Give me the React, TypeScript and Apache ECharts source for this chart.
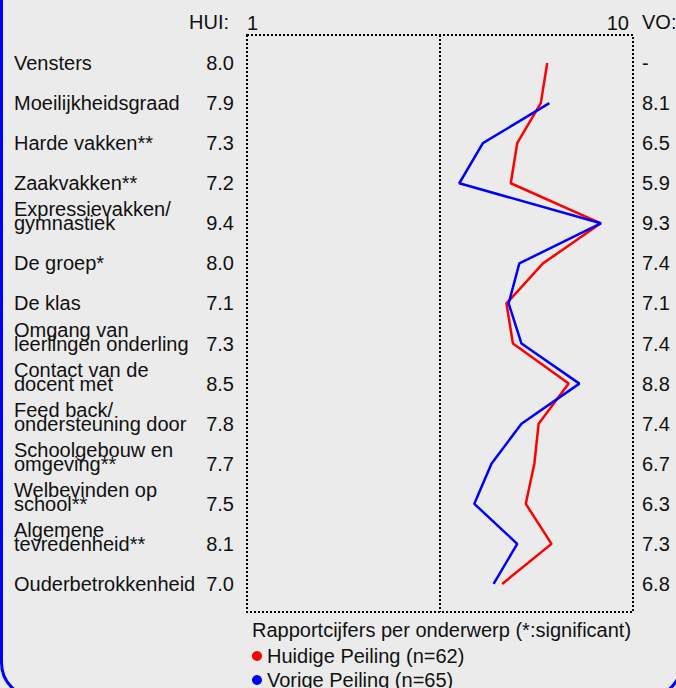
import React, { useEffect, useRef } from "react";
import * as echarts from "echarts";

const topics: string[] = [
  "Vensters",
  "Moeilijkheidsgraad",
  "Harde vakken**",
  "Zaakvakken**",
  "Expressievakken/\ngymnastiek",
  "De groep*",
  "De klas",
  "Omgang van\nleerlingen onderling",
  "Contact van de\ndocent met",
  "Feed back/\nondersteuning door",
  "Schoolgebouw en\nomgeving**",
  "Welbevinden op\nschool**",
  "Algemene\ntevredenheid**",
  "Ouderbetrokkenheid",
];

// printed grades (HUI / VO columns)
const huidigeLabels: number[] = [8.0, 7.9, 7.3, 7.2, 9.4, 8.0, 7.1, 7.3, 8.5, 7.8, 7.7, 7.5, 8.1, 7.0];
const vorigeLabels: (number | null)[] = [null, 8.1, 6.5, 5.9, 9.3, 7.4, 7.1, 7.4, 8.8, 7.4, 6.7, 6.3, 7.3, 6.8];

// plotted positions
const huidigeLine: number[] = [8.0, 7.85, 7.3, 7.15, 9.25, 7.9, 7.05, 7.2, 8.5, 7.8, 7.7, 7.5, 8.1, 6.95];
const vorigeLine: (number | null)[] = [null, 8.05, 6.5, 5.95, 9.25, 7.35, 7.1, 7.4, 8.75, 7.4, 6.7, 6.3, 7.3, 6.75];

const scaleTicks: number[] = [1, 10];
const rowRange: number[] = [-0.7, 13.7];
const midValue = 5.5;
const seriesNames: string[] = ["Huidige Peiling (n=62)", "Vorige Peiling (n=65)"];
const footTitle = "Rapportcijfers per onderwerp (*:significant)";
const huiHeader = "HUI:";
const voHeader = "VO:";

const FONT = "'Liberation Sans', Arial, sans-serif";
const TXT = "#111";

export default function App() {
  const ref = useRef<HTMLDivElement>(null);
  useEffect(() => {
    if (!ref.current) return;
    const chart = echarts.init(ref.current, undefined, { renderer: "svg" });
    const rows = topics.map((_, i) => i);
    const yBase = {
      type: "value" as const,
      inverse: true,
      min: rowRange[0],
      max: rowRange[1],
      splitLine: { show: false },
      axisTick: { show: false },
      axisLine: { show: false },
    };
    const redData = huidigeLine.map((v, i) => [v, i]);
    const blueData = vorigeLine
      .map((v, i) => (v == null ? null : [v, i]))
      .filter((d) => d !== null);
    const legendBase = {
      orient: "horizontal" as const,
      left: 252,
      padding: 0,
      itemWidth: 10,
      itemHeight: 10,
      icon: "circle",
      textStyle: { fontSize: 20, color: TXT, fontFamily: FONT },
    };
    chart.setOption({
      animation: false,
      backgroundColor: "#ebebeb",
      textStyle: { fontFamily: FONT },
      grid: { left: 247, right: 43, top: 35, bottom: 76 },
      title: {
        text: footTitle,
        left: 252,
        top: 620,
        padding: 0,
        textStyle: { fontSize: 20, fontWeight: "normal", color: TXT, fontFamily: FONT },
      },
      legend: [
        { ...legendBase, top: 646, data: [seriesNames[0]] },
        { ...legendBase, top: 670, data: [seriesNames[1]] },
      ],
      xAxis: [
        {
          type: "value",
          position: "top",
          min: scaleTicks[0],
          max: scaleTicks[1],
          axisLine: { show: false },
          axisTick: { show: false },
          splitLine: { show: false },
          axisLabel: {
            customValues: scaleTicks,
            margin: 2,
            fontSize: 20,
            color: TXT,
            fontFamily: FONT,
            padding: [0, 4, 0, 0],
            alignMinLabel: "left",
            alignMaxLabel: "right",
          },
        },
      ],
      yAxis: [
        {
          ...yBase,
          position: "left",
          axisLabel: {
            customValues: rows,
            align: "left",
            margin: 233,
            fontSize: 20,
            lineHeight: 14,
            color: TXT,
            fontFamily: FONT,
            formatter: (v: number) => {
              const t = topics[Math.round(v)] ?? "";
              return t.includes("\n") ? t + "\n " : t;
            },
          },
        },
        {
          ...yBase,
          position: "left",
          axisLabel: {
            customValues: rows,
            align: "right",
            margin: 13,
            fontSize: 20,
            color: TXT,
            fontFamily: FONT,
            formatter: (v: number) => {
              const h = huidigeLabels[Math.round(v)];
              return h == null ? "-" : h.toFixed(1);
            },
          },
        },
        {
          ...yBase,
          position: "right",
          axisLabel: {
            customValues: rows,
            align: "left",
            margin: 9,
            fontSize: 20,
            color: TXT,
            fontFamily: FONT,
            formatter: (v: number) => {
              const h = vorigeLabels[Math.round(v)];
              return h == null ? "-" : h.toFixed(1);
            },
          },
        },
      ],
      graphic: [
        {
          type: "rect",
          silent: true,
          shape: { x: 1.5, y: -40, width: 680, height: 737, r: 34 },
          style: { fill: "none", stroke: "#0000ff", lineWidth: 3 },
        },
        {
          type: "text",
          silent: true,
          x: 229,
          y: 22,
          style: {
            text: huiHeader,
            fontSize: 20,
            fontFamily: FONT,
            fill: TXT,
            align: "right",
            verticalAlign: "middle",
          },
        },
        {
          type: "text",
          silent: true,
          x: 642,
          y: 22,
          style: {
            text: voHeader,
            fontSize: 20,
            fontFamily: FONT,
            fill: TXT,
            align: "left",
            verticalAlign: "middle",
          },
        },
      ],
      series: [
        {
          name: seriesNames[0],
          type: "line",
          xAxisIndex: 0,
          yAxisIndex: 0,
          data: redData,
          symbol: "none",
          color: "#ff0000",
          lineStyle: { color: "#ff0000", width: 2.5 },
          z: 3,
          markArea: {
            silent: true,
            label: { show: false },
            itemStyle: {
              color: "rgba(0,0,0,0)",
              borderColor: "#000",
              borderWidth: 2,
              borderType: "dotted",
            },
            data: [
              [
                { xAxis: scaleTicks[0], yAxis: rowRange[0] },
                { xAxis: scaleTicks[1], yAxis: rowRange[1] },
              ],
            ],
          },
          markLine: {
            silent: true,
            symbol: "none",
            label: { show: false },
            lineStyle: { color: "#000", width: 2, type: "dotted" },
            data: [{ xAxis: midValue }],
          },
        },
        {
          name: seriesNames[1],
          type: "line",
          xAxisIndex: 0,
          yAxisIndex: 0,
          data: blueData,
          symbol: "none",
          color: "#0000ff",
          lineStyle: { color: "#0000ff", width: 2.5 },
          z: 4,
        },
      ],
    });
    return () => chart.dispose();
  }, []);
  return (
    <div
      ref={ref}
      style={{ position: "fixed", left: 0, top: 0, width: 676, height: 688 }}
    />
  );
}
